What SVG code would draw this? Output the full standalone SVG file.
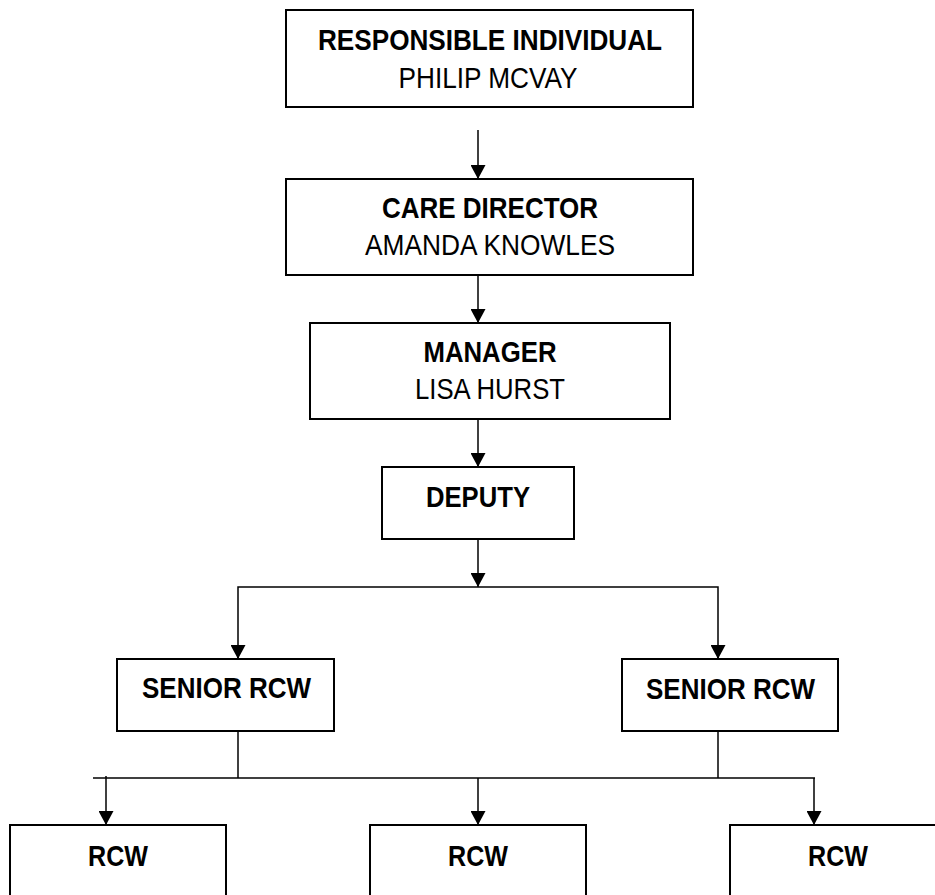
<svg xmlns="http://www.w3.org/2000/svg" width="935" height="895" viewBox="0 0 935 895">
<style>
.box{fill:#fff;stroke:#000;stroke-width:2}
.t{font-family:"Liberation Sans Narrow","Liberation Sans",Arial,sans-serif;font-size:30px;fill:#000;text-anchor:middle}
.b{font-weight:bold}
.c{fill:none;stroke:#000;stroke-width:1.5}
</style>
<defs>
<marker id="ah" viewBox="0 0 14 15" refX="14" refY="7.5" markerWidth="14" markerHeight="15" markerUnits="userSpaceOnUse" orient="auto">
<path d="M0,0 L14,7.5 L0,15 z" fill="#000"/>
</marker>
</defs>
<rect width="935" height="895" fill="#fff"/>
<g id="connectors">
<line class="c" x1="478" y1="130" x2="478" y2="179" marker-end="url(#ah)"/>
<line class="c" x1="478" y1="275" x2="478" y2="323" marker-end="url(#ah)"/>
<line class="c" x1="478" y1="419" x2="478" y2="467" marker-end="url(#ah)"/>
<line class="c" x1="478" y1="539" x2="478" y2="587" marker-end="url(#ah)"/>
<polyline class="c" points="238,659 238,587 718,587 718,659"/>
<line class="c" x1="238" y1="645" x2="238" y2="659" marker-end="url(#ah)"/>
<line class="c" x1="718" y1="645" x2="718" y2="659" marker-end="url(#ah)"/>
<line class="c" x1="238" y1="731" x2="238" y2="778"/>
<line class="c" x1="718" y1="731" x2="718" y2="778"/>
<line class="c" x1="93" y1="778" x2="815" y2="778"/>
<line class="c" x1="106" y1="776" x2="106" y2="825" marker-end="url(#ah)"/>
<line class="c" x1="478" y1="778" x2="478" y2="825" marker-end="url(#ah)"/>
<line class="c" x1="814" y1="778" x2="814" y2="825" marker-end="url(#ah)"/>
</g>
<g id="responsible-individual">
<rect class="box" x="286" y="10" width="407" height="97"/>
<text class="t b" x="490" y="50" textLength="344" lengthAdjust="spacingAndGlyphs">RESPONSIBLE INDIVIDUAL</text>
<text class="t" x="488" y="88" textLength="179" lengthAdjust="spacingAndGlyphs">PHILIP MCVAY</text>
</g>
<g id="care-director">
<rect class="box" x="286" y="179" width="407" height="96"/>
<text class="t b" x="490" y="218" textLength="216" lengthAdjust="spacingAndGlyphs">CARE DIRECTOR</text>
<text class="t" x="490" y="255" textLength="250" lengthAdjust="spacingAndGlyphs">AMANDA KNOWLES</text>
</g>
<g id="manager">
<rect class="box" x="310" y="323" width="360" height="96"/>
<text class="t b" x="490" y="362" textLength="133" lengthAdjust="spacingAndGlyphs">MANAGER</text>
<text class="t" x="490" y="399" textLength="150" lengthAdjust="spacingAndGlyphs">LISA HURST</text>
</g>
<g id="deputy">
<rect class="box" x="382" y="467" width="192" height="72"/>
<text class="t b" x="478" y="507" textLength="104" lengthAdjust="spacingAndGlyphs">DEPUTY</text>
</g>
<g id="senior-rcw-left">
<rect class="box" x="117" y="659" width="217" height="72"/>
<text class="t b" x="226.5" y="698" textLength="169" lengthAdjust="spacingAndGlyphs">SENIOR RCW</text>
</g>
<g id="senior-rcw-right">
<rect class="box" x="622" y="659" width="216" height="72"/>
<text class="t b" x="730.5" y="699" textLength="169" lengthAdjust="spacingAndGlyphs">SENIOR RCW</text>
</g>
<g id="rcw-1">
<rect class="box" x="10" y="825" width="216" height="100"/>
<text class="t b" x="118" y="866" textLength="60" lengthAdjust="spacingAndGlyphs">RCW</text>
</g>
<g id="rcw-2">
<rect class="box" x="370" y="825" width="216" height="100"/>
<text class="t b" x="478" y="866" textLength="60" lengthAdjust="spacingAndGlyphs">RCW</text>
</g>
<g id="rcw-3">
<rect class="box" x="730" y="825" width="216" height="100"/>
<text class="t b" x="838" y="866" textLength="60" lengthAdjust="spacingAndGlyphs">RCW</text>
</g>
</svg>
